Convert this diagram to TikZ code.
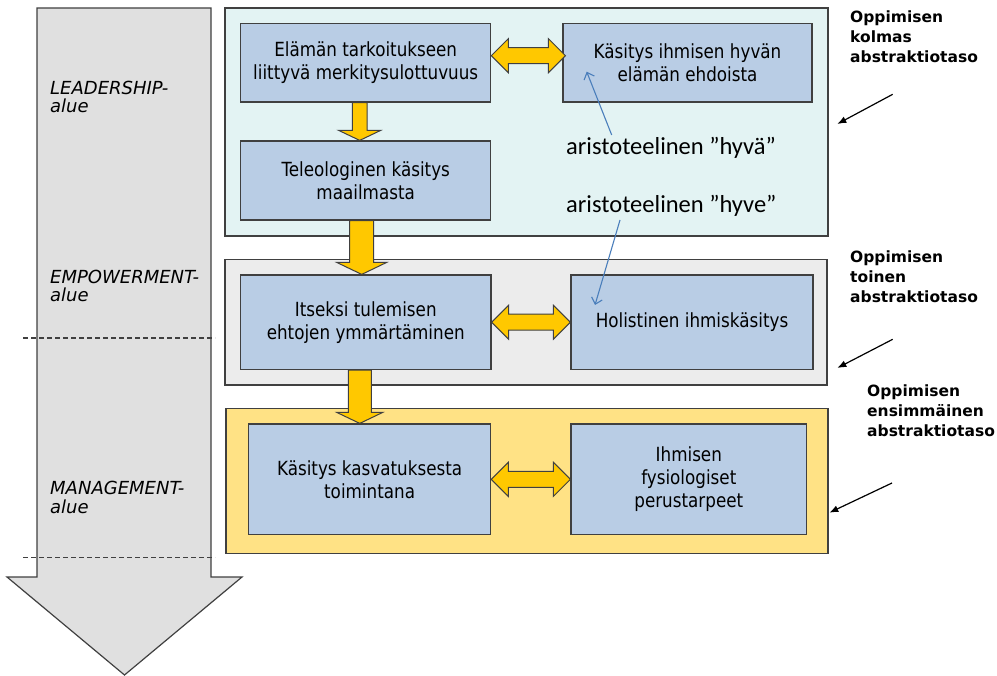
\documentclass[tikz,border=0pt]{standalone}
\usepackage{fontspec}
\usetikzlibrary{calc,arrows.meta}
\newfontfamily\boxfont{DejaVu Sans}[FakeStretch=0.86]
\newfontfamily\lblfont{DejaVu Sans}
\newfontfamily\notefont{Carlito}

\definecolor{edge}{HTML}{404040}
\definecolor{boxblue}{HTML}{B9CDE5}
\definecolor{cyanpanel}{HTML}{E3F3F3}
\definecolor{greypanel}{HTML}{ECECEC}
\definecolor{yellowpanel}{HTML}{FFE285}
\definecolor{arrowyellow}{HTML}{FFC800}
\definecolor{bigarrow}{HTML}{E0E0E0}
\definecolor{linkblue}{HTML}{4A7EBB}

% horizontal two-headed block arrow between two points
\newcommand\twowayarrow[2]{%
  \draw[yarrow] let \p1=(#1), \p2=(#2) in
    (\x1,\y1) -- (\x1+17pt,\y1+17pt) -- (\x1+17pt,\y1+8pt) -- (\x2-17pt,\y1+8pt)
    -- (\x2-17pt,\y1+17pt) -- (\x2,\y1) -- (\x2-17pt,\y1-17pt) -- (\x2-17pt,\y1-8pt)
    -- (\x1+17pt,\y1-8pt) -- (\x1+17pt,\y1-17pt) -- cycle;}
% downward block arrow: from, to, half shaft, half head, head length
\newcommand\downblockarrow[5]{%
  \draw[yarrow] let \p1=(#1), \p2=(#2) in
    (\x1-#3pt,\y1) -- (\x1-#3pt,\y2+#5pt) -- (\x1-#4pt,\y2+#5pt) -- (\x1,\y2)
    -- (\x1+#4pt,\y2+#5pt) -- (\x1+#3pt,\y2+#5pt) -- (\x1+#3pt,\y1) -- cycle;}

\begin{document}
\begin{tikzpicture}[x=1pt,y=-1pt,
  panel/.style={draw=edge, line width=1.3pt, inner sep=0pt},
  box/.style={draw=edge, fill=boxblue, line width=1.2pt, align=center, inner sep=0pt,
    font=\boxfont\fontsize{19.5}{23}\selectfont},
  yarrow/.style={fill=arrowyellow, draw=edge, line width=1pt, line join=miter},
  zone/.style={font=\lblfont\itshape\fontsize{18}{18.4}\selectfont, anchor=base west,
    align=left, inner sep=0pt},
  level/.style={font=\lblfont\bfseries\fontsize{15.5}{20}\selectfont, anchor=base west,
    align=left, inner sep=0pt},
  note/.style={font=\notefont\fontsize{24.5}{28}\selectfont, anchor=base west, inner sep=0pt},
  pointer/.style={draw=black, line width=1.2pt, -{Latex[length=9pt,width=7pt]}},
  link/.style={draw=linkblue, line width=1.1pt, -{Straight Barb[length=6pt,width=11pt]}},
  divider/.style={draw=edge, line width=1.1pt, dash pattern=on 5pt off 3pt}]
\useasboundingbox (0,0) rectangle (997,676);

% large downward arrow on the left
\draw[fill=bigarrow, draw=edge, line width=1.2pt, line join=miter]
  (37,8) -- (37,577) -- (7,577) -- (124.5,675) -- (242,577) -- (211,577) -- (211,8) -- cycle;

% dashed dividers
\coordinate (d1a) at (23,338);  \coordinate (d1b) at (215,338);
\coordinate (d2a) at (23,557.7); \coordinate (d2b) at (215,557.7);
\draw[divider] (d1a) -- (d1b);
\draw[divider] (d2a) -- (d2b);

% zone labels (anchored at the baseline of the last line)
\node[zone] (lead) at (50,112.7) {LEADERSHIP-\\alue};
\node[zone] (emp) at (50,301.7) {EMPOWERMENT-\\alue};
\node[zone] (man) at (50,513) {MANAGEMENT-\\alue};

% level panels
\node[panel, fill=cyanpanel, minimum width=603pt, minimum height=228pt] (p1) at (526.5,122) {};
\node[panel, fill=greypanel, minimum width=602pt, minimum height=125.5pt] (p2) at (526,322.25) {};
\node[panel, fill=yellowpanel, minimum width=602pt, minimum height=145pt] (p3) at (527,480.8) {};

% concept boxes
\node[box, minimum width=250pt, minimum height=78.7pt] (b1) at (365.7,62.7)
  {Elämän tarkoitukseen\\liittyvä merkitysulottuvuus};
\node[box, minimum width=249pt, minimum height=78.7pt] (b2) at (687.5,62.7)
  {Käsitys ihmisen hyvän\\elämän ehdoista};
\node[box, minimum width=250pt, minimum height=79pt] (b3) at (365.7,180.5)
  {Teleologinen käsitys\\maailmasta};
\node[box, minimum width=250.5pt, minimum height=94.5pt] (b4) at (365.75,322.25)
  {Itseksi tulemisen\\ehtojen ymmärtäminen};
\node[box, minimum width=242pt, minimum height=94.5pt] (b5) at (692,322.25)
  {Holistinen ihmiskäsitys};
\node[box, minimum width=242.2pt, minimum height=110.7pt] (b6) at (369.6,479.35)
  {Käsitys kasvatuksesta\\toimintana};
\node[box, minimum width=235.6pt, minimum height=110.7pt] (b7) at (688.8,479.35)
  {Ihmisen\\fysiologiset\\perustarpeet};

% yellow block arrows
\twowayarrow{$(b1.east)+(0,-7)$}{$(b2.west)+(3,-7)$}
\twowayarrow{b4.east}{b5.west}
\twowayarrow{b6.east}{b7.west}
\downblockarrow{$(b1.south)+(-6,0)$}{b3.north}{7.3}{21}{10}
\downblockarrow{$(b3.south)+(-4,0)$}{b4.north}{12}{25}{12}
\downblockarrow{$(b4.south)+(-6,0)$}{b6.north}{11.5}{23}{11}

% notes with thin links
\node[note] (hyva) at (566,155) {aristoteelinen ”hyvä”};
\node[note] (hyve) at (566,212.7) {aristoteelinen ”hyve”};
\coordinate (l1s) at (611.7,135);  \coordinate (l1e) at (586.7,71.7);
\coordinate (l2s) at (620,220);    \coordinate (l2e) at (595,305);
\draw[link] (l1s) -- (l1e);
\draw[link] (l2s) -- (l2e);

% learning level labels (anchored at the baseline of the last line)
\node[level] (lv3) at (850,62.7) {Oppimisen\\kolmas\\abstraktiotaso};
\node[level] (lv2) at (850,303) {Oppimisen\\toinen\\abstraktiotaso};
\node[level] (lv1) at (867,437) {Oppimisen\\ensimmäinen\\abstraktiotaso};
\coordinate (r1s) at (892.7,94.3);  \coordinate (r1e) at (837.3,124);
\coordinate (r2s) at (892.7,339.3); \coordinate (r2e) at (837.3,368);
\coordinate (r3s) at (892,483);     \coordinate (r3e) at (829.3,512.7);
\draw[pointer] (r1s) -- (r1e);
\draw[pointer] (r2s) -- (r2e);
\draw[pointer] (r3s) -- (r3e);
\end{tikzpicture}
\end{document}
